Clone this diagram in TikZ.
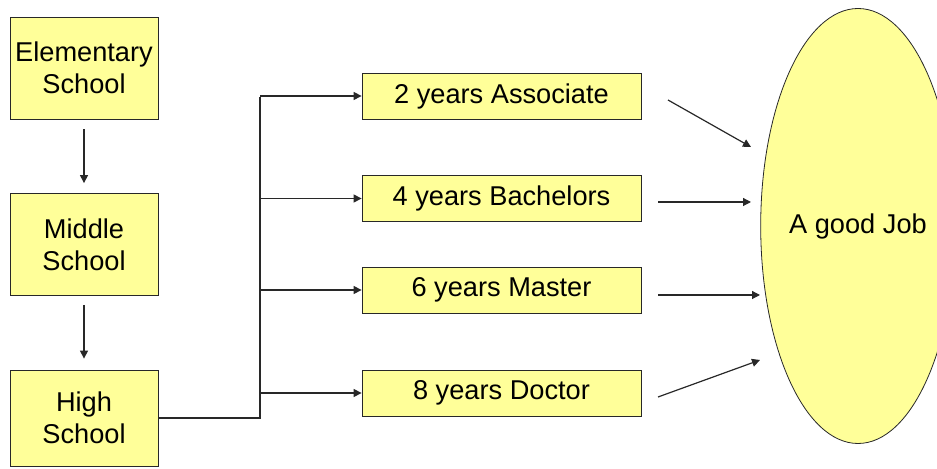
\documentclass[tikz,border=0pt]{standalone}
\usepackage{fontspec}
\setmainfont{Liberation Sans}
\usetikzlibrary{shapes.geometric,arrows.meta}
\definecolor{paleyellow}{RGB}{255,255,153}
\definecolor{linegray}{RGB}{40,40,40}

\begin{document}
\begin{tikzpicture}[
    x=0.5pt, y=-0.5pt,
    every node/.style = {
      align=center,
      inner sep=0pt,
      font=\fontsize{13.6}{16}\selectfont
    },
    school/.style = {
      shape=rectangle,
      draw=linegray,
      fill=paleyellow,
      minimum width=74pt,
      minimum height=51pt
    },
    degree/.style = {
      shape=rectangle,
      draw=linegray,
      fill=paleyellow,
      minimum width=139.5pt,
      minimum height=23pt
    },
    goal/.style = {
      shape=ellipse,
      draw=linegray,
      fill=paleyellow,
      minimum width=79pt,
      minimum height=217.5pt
    },
    arrow/.style = {
      draw=linegray,
      line width=0.6pt,
      -{Triangle[length=4pt,width=4pt]}
    }
  ]
  \useasboundingbox (0,0) rectangle (937,469);

  % school path
  \node[school] (elem) at (84,68) {Elementary\\School};
  \node[school] (middle) at (84,244.5) {Middle\\School};
  \node[school, minimum height=48pt] (high) at (84,418) {High\\School};

  % degrees
  \node[degree] (assoc) at (501.5,96) {2 years Associate};
  \node[degree] (bach) at (501.5,198.5) {4 years Bachelors};
  \node[degree] (master) at (501.5,290) {6 years Master};
  \node[degree] (doctor) at (501.5,393) {8 years Doctor};

  % the goal
  \node[goal] (job) at (858,226) {A good Job};

  \draw[arrow, shorten <=5pt, shorten >=5pt] (elem) -- (middle);
  \draw[arrow, shorten <=4.5pt, shorten >=5.5pt] (middle) -- (high);

  \coordinate (bus) at (260,97);
  \draw[draw=linegray, line width=0.6pt] (high.east) -- (high.east -| bus) -- (bus);
  \foreach \d in {assoc, bach, master, doctor}
    \draw[arrow] (\d.west -| bus) -- (\d.west);

  % arrows towards the job
  \coordinate (a1) at (668,100);
  \coordinate (a2) at (751,147);
  \coordinate (b1) at (658,202);
  \coordinate (b2) at (751,202);
  \coordinate (c1) at (658,295);
  \coordinate (c2) at (760,295);
  \coordinate (d1) at (658,397);
  \coordinate (d2) at (760,360);
  \draw[arrow] (a1) -- (a2);
  \draw[arrow] (b1) -- (b2);
  \draw[arrow] (c1) -- (c2);
  \draw[arrow] (d1) -- (d2);

\end{tikzpicture}
\end{document}
